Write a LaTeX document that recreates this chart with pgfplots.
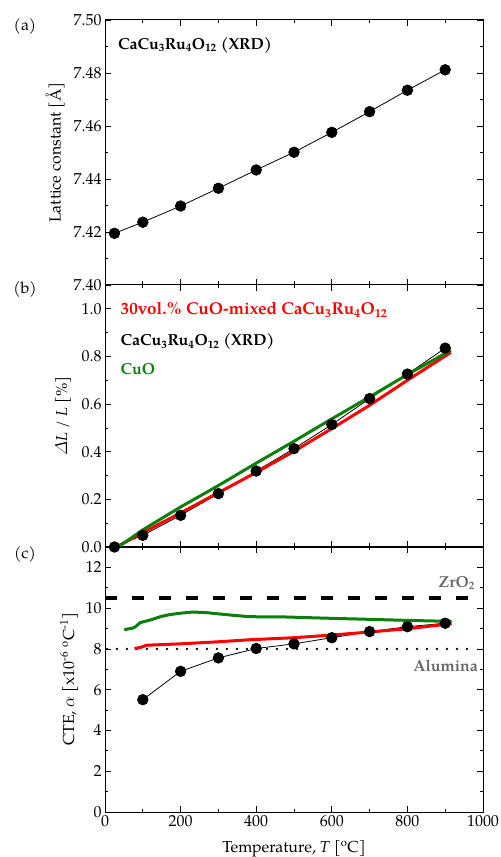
\documentclass[border=0pt]{standalone}
\usepackage{amsmath}
\usepackage{fontspec}
\setmainfont{TeX Gyre Pagella}
\usepackage{pgfplots}
\pgfplotsset{compat=1.18}
\definecolor{cgreen}{RGB}{10,128,10}
\definecolor{cred}{RGB}{255,0,0}
\definecolor{cgray}{RGB}{105,105,105}
\pgfplotsset{
  common/.style={
    scale only axis, width=378bp, xmin=0, xmax=1000,
    xtick={0,200,400,600,800,1000}, minor x tick num=1, minor y tick num=1,
    tick align=inside, major tick length=6bp, minor tick length=3.5bp,
    axis line style={line width=1pt},
    every tick/.style={black, line width=0.8pt},
    /pgf/number format/assume math mode=true,
    /pgf/number format/1000 sep={},
    anchor=south west,
  },
  xrd/.style={black, line width=0.8pt, mark=*, mark size=5.3pt, mark options={fill=black, draw=black, solid}},
}
\begin{document}
\begin{tikzpicture}[font=\fontsize{16}{19}\selectfont]
\path[use as bounding box] (-105bp,-45bp) rectangle (396bp,812bp);

% (a)
\begin{axis}[common, at={(0bp,527bp)}, height=265bp,
  ymin=7.40, ymax=7.50, ytick={7.40,7.42,7.44,7.46,7.48,7.50},
  xticklabels={},
  yticklabel style={/pgf/number format/.cd, fixed, fixed zerofill, precision=2},
  ylabel={Lattice constant [Å]},
  ylabel style={at={(axis description cs:-0.132,0.5)}, anchor=center}]
\addplot[xrd] coordinates {
(25,7.4195) (100,7.4237) (200,7.4298) (300,7.4365) (400,7.4434)
(500,7.4501) (600,7.4576) (700,7.4654) (800,7.4735) (900,7.4812)};
\node[anchor=base west, inner sep=0pt] at (axis cs:34,7.4890) {\bfseries CaCu\textsubscript{3}Ru\textsubscript{4}O\textsubscript{12} (XRD)};
\end{axis}

% (b)
\begin{axis}[common, at={(0bp,265bp)}, height=262bp,
  ymin=0, ymax=1.1, ytick={0,0.2,0.4,0.6,0.8,1.0},
  xticklabels={},
  yticklabel style={/pgf/number format/.cd, fixed, fixed zerofill, precision=1},
  ylabel={$\varDelta$\textit{L} / \textit{L} [\%]},
  ylabel style={at={(axis description cs:-0.111,0.5)}, anchor=center}]
\addplot[xrd] coordinates {
(25,0.0) (100,0.049) (200,0.133) (300,0.224) (400,0.319)
(500,0.413) (600,0.514) (700,0.623) (800,0.726) (900,0.835)};
\addplot[cred, line width=3bp] coordinates {
(30,0.0) (100,0.060) (200,0.143) (300,0.228) (400,0.313) (500,0.402)
(600,0.497) (700,0.595) (800,0.700) (915,0.817)};
\addplot[cgreen, line width=3bp] coordinates {
(35,0.0) (100,0.072) (200,0.168) (300,0.258) (400,0.352) (500,0.444)
(600,0.538) (700,0.630) (800,0.724) (915,0.826)};
\node[anchor=base west, inner sep=0pt, text=cred] at (axis cs:41,0.975) {\fontsize{17.2}{20}\selectfont\bfseries 30vol.\% CuO-mixed CaCu\textsubscript{3}Ru\textsubscript{4}O\textsubscript{12}};
\node[anchor=base west, inner sep=0pt, text=black] at (axis cs:41,0.846) {\bfseries CaCu\textsubscript{3}Ru\textsubscript{4}O\textsubscript{12} (XRD)};
\node[anchor=base west, inner sep=0pt, text=cgreen] at (axis cs:41,0.724) {\bfseries CuO};
\end{axis}

% (c)
\begin{axis}[common, at={(0bp,0bp)}, height=265bp,
  ymin=0, ymax=13, ytick={0,2,4,6,8,10,12},
  xlabel={Temperature, \textit{T} [\textsuperscript{o}C]},
  xlabel style={at={(axis description cs:0.5,-0.1547)}, anchor=base},
  ylabel={CTE, $\alpha$ [x10\textsuperscript{-6} \textsuperscript{o}C\textsuperscript{-1}]},
  ylabel style={at={(axis description cs:-0.095,0.5)}, anchor=center}]
\addplot[black, line width=4bp, dash pattern=on 12bp off 15bp] coordinates {(0,10.5) (1000,10.5)};
\addplot[black, line width=2.6bp, line cap=round, dash pattern=on 0bp off 10bp] coordinates {(5,8.0) (980,8.0)};
\addplot[xrd] coordinates {
(100,5.51) (200,6.90) (300,7.56) (400,8.02) (500,8.25)
(600,8.55) (700,8.85) (800,9.09) (900,9.26)};
\addplot[cred, line width=3bp] coordinates {
(78,8.02) (95,8.08) (110,8.18) (200,8.25) (300,8.35) (383,8.45) (500,8.55)
(600,8.68) (700,8.83) (800,8.99) (917,9.24)};
\addplot[cgreen, line width=3bp] coordinates {
(51,8.93) (60,8.98) (70,9.00) (80,9.08) (93,9.29) (120,9.42) (146,9.58)
(170,9.68) (198,9.75) (233,9.81) (268,9.78) (300,9.72) (339,9.65) (383,9.58)
(472,9.57) (600,9.50) (702,9.45) (800,9.40) (917,9.35)};
\node[anchor=base east, inner sep=0pt, text=cgray] at (axis cs:979,11.03) {\bfseries ZrO\textsubscript{2}};
\node[anchor=base east, inner sep=0pt, text=cgray] at (axis cs:987,6.89) {\bfseries Alumina};
\end{axis}

\node at (-80bp,785bp) {(a)};
\node at (-80bp,522bp) {(b)};
\node at (-80bp,257bp) {(c)};
\end{tikzpicture}
\end{document}
